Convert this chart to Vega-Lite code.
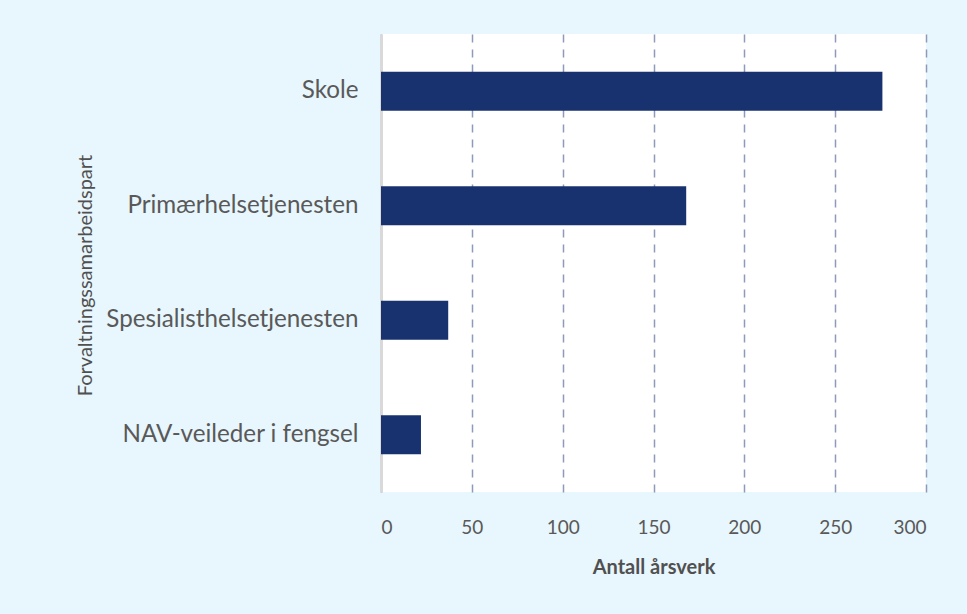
{
  "$schema": "https://vega.github.io/schema/vega-lite/v6.json",
  "autosize": {"type": "none"},
  "width": 545,
  "height": 458,
  "padding": {"left": 381, "top": 34, "right": 41, "bottom": 122},
  "background": "#e8f6fd",
  "config": {
    "font": "Lato",
    "view": {"fill": "white", "stroke": null}
  },
  "data": {
    "values": [
      {"part": "Skole", "aarsverk": 276},
      {"part": "Primærhelsetjenesten", "aarsverk": 168},
      {"part": "Spesialisthelsetjenesten", "aarsverk": 37},
      {"part": "NAV-veileder i fengsel", "aarsverk": 22}
    ]
  },
  "mark": {"type": "bar", "color": "#18326f"},
  "encoding": {
    "y": {
      "field": "part",
      "type": "nominal",
      "sort": null,
      "scale": {"paddingInner": 0.66, "paddingOuter": 0.33},
      "axis": {
        "title": "Forvaltningssamarbeidspart",
        "titleFontSize": 20,
        "titleFontWeight": "normal",
        "titleColor": "#505050",
        "titleX": -296,
        "titleY": 241,
        "titleAngle": -90,
        "titleAlign": "center",
        "titleBaseline": "middle",
        "labelFontSize": 24.2,
        "labelColor": "#595959",
        "labelPadding": 23,
        "labelLimit": 400,
        "ticks": false,
        "domain": true,
        "domainColor": "#d9d9d9",
        "domainWidth": 3,
        "grid": false
      }
    },
    "x": {
      "field": "aarsverk",
      "type": "quantitative",
      "scale": {"domain": [0, 300], "nice": false},
      "axis": {
        "values": [0, 50, 100, 150, 200, 250, 300],
        "title": "Antall årsverk",
        "titleFontSize": 20,
        "titleFontWeight": "bold",
        "titleColor": "#505050",
        "titleY": 75,
        "titleBaseline": "middle",
        "labelFontSize": 19,
        "labelColor": "#595959",
        "labelPadding": 26,
        "ticks": false,
        "domain": false,
        "grid": true,
        "gridColor": "#8e9ab9",
        "gridDash": [8, 7],
        "gridWidth": 1.5
      }
    }
  }
}
